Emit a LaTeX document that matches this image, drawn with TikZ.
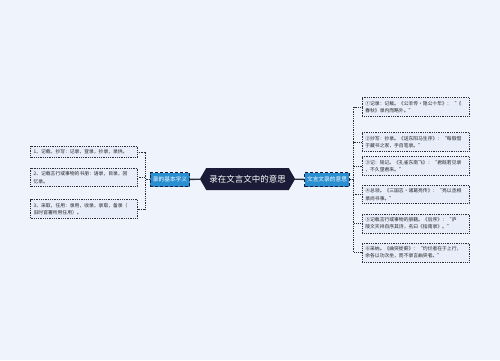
\documentclass[tikz,border=0pt]{standalone}
\usepackage{fontspec}
\newfontfamily\cjk{Noto Sans CJK SC}
\XeTeXlinebreaklocale "zh"
\XeTeXlinebreakskip=0pt plus 1pt
\usetikzlibrary{positioning,shapes.symbols}
\definecolor{bgblue}{HTML}{EFF3FC}
\definecolor{leaffill}{HTML}{E7EDF9}
\definecolor{midblue}{HTML}{2A8FD1}
\definecolor{navy}{HTML}{1B1B38}
\definecolor{edgegray}{HTML}{2E2E38}

\begin{document}
\begin{tikzpicture}[x=1pt, y=-1pt,
  every node/.style={font=\cjk},
  root/.style ={signal, signal to=east and west, signal pointer angle=120,
                fill=navy, text=white, minimum height=22pt, inner xsep=3pt,
                font=\cjk\fontsize{8.5}{10}\selectfont},
  side/.style ={draw=navy, densely dashed, line width=0.6pt, fill=midblue, text=white,
                minimum height=14pt, inner xsep=2.5pt, inner ysep=1pt,
                font=\cjk\fontsize{5.7}{7}\selectfont},
  leaf/.style ={draw=edgegray, dash pattern=on 1pt off 0.8pt, line width=0.7pt,
                fill=leaffill, text=black!85, text width=101pt, align=left,
                inner xsep=3pt, inner ysep=3.4pt,
                font=\cjk\fontsize{4.8}{7.4}\selectfont},
  link/.style ={draw=edgegray, line width=1.3pt},
  brak/.style ={draw=edgegray, line width=0.7pt, dash pattern=on 1pt off 0.8pt}]

%% ── canvas ──────────────────────────────────────────────
\fill[bgblue] (0,0) rectangle (500,360);
\useasboundingbox (0,0) rectangle (500,360);

%% ── centre and the two branches ─────────────────────────
\node[root] (root)  at (247.5,179) {录在文言文中的意思};
\node[side] (lside) at (170,179.5) {录的基本字义};
\node[side] (rside) at (327,179.5) {文言文录的意思};

%% ── left leaves ─────────────────────────────────────────
\node[leaf, anchor=east] (l1) at (138,152)   {1、记载，抄写：记录，登录，抄录，录供。};
\node[leaf, anchor=east] (l2) at (138,177.5) {2、记载言行或事物的书册：语录，目录，回\\忆录。};
\node[leaf, anchor=east] (l3) at (138,209)   {3、采取，任用：录用，收录，录取，备录（\\旧时官署所用任用）。};

%% ── right leaves ────────────────────────────────────────
\node[leaf, anchor=west] (r1) at (362,107)   {①记录：记载。《公羊传·隐公十年》：“《\\春秋》录内而略外。”};
\node[leaf, anchor=west] (r2) at (362,142)   {②抄写：抄录。《送东阳马生序》：“每假借\\于藏书之家，手自笔录。”};
\node[leaf, anchor=west] (r3) at (362,166)   {③记：铭记。《孔雀东南飞》：“君既若见录\\，不久望君来。”};
\node[leaf, anchor=west] (r4) at (362,194.5) {④总领。《三国志·诸葛亮传》：“亮以丞相\\录尚书事。”};
\node[leaf, anchor=west] (r5) at (362,223.5) {⑤记载言行或事物的册籍。《后序》：“庐\\陵文天祥自序其诗，名曰《指南录》。”};
\node[leaf, anchor=west] (r6) at (362,252.5) {⑥采纳。《曲突徙薪》：“灼烂者在于上行，\\余各以功次坐，而不录言曲突者。”};

%% ── root to branches ────────────────────────────────────
\draw[link] (root) -- (lside);
\draw[link] (root) -- (rside);

%% ── brackets ────────────────────────────────────────────
\foreach \n in {l1,l2,l3}
  \draw[brak] (lside.west) -- ++(-5,0) |- (\n.east);
\foreach \n in {r1,r2,r3,r4,r5,r6}
  \draw[brak] (rside.east) -- ++(4,0) |- (\n.west);
\end{tikzpicture}
\end{document}
